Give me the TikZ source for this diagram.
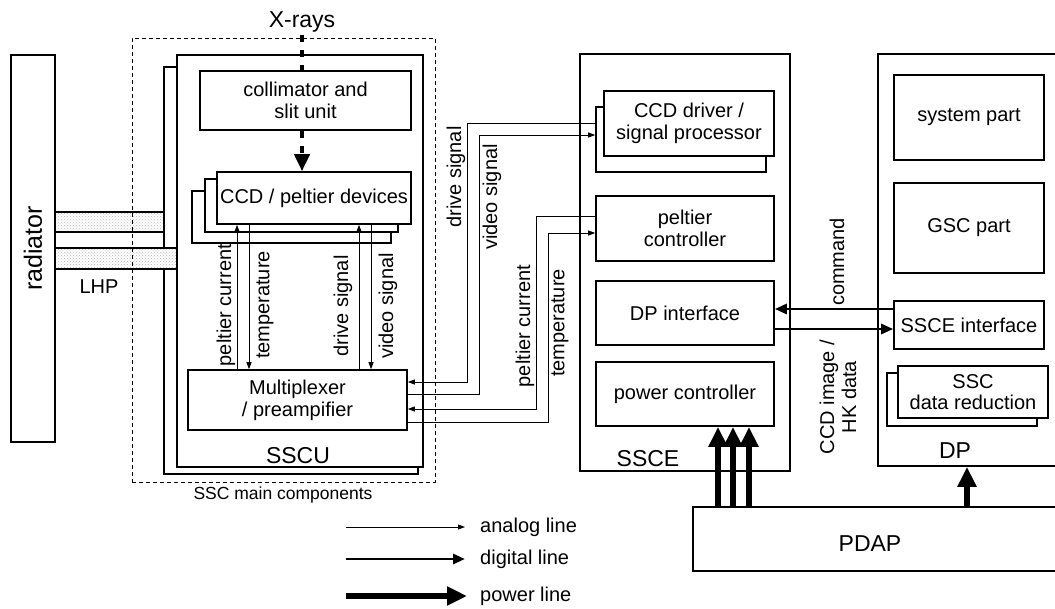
\documentclass[tikz,border=0pt]{standalone}
\usepackage{fontspec}
\setmainfont{Liberation Sans}
\usetikzlibrary{arrows.meta,patterns}

\begin{document}
\begin{tikzpicture}[x=1pt,y=-1pt,
  box/.style={draw,line width=1.6pt,fill=white,inner sep=0pt,align=center,font=\fontsize{20}{22}\selectfont},
  big/.style={font=\fontsize{23}{26}\selectfont,inner sep=0pt},
  txt/.style={font=\fontsize{20}{22}\selectfont,align=center,inner sep=0pt},
  lhp/.style={draw,line width=1.6pt,preaction={fill=white},pattern=crosshatch dots,pattern color=gray!55},
  analog/.style={line width=0.8pt,-{Triangle[width=5pt,length=7pt]}},
  digital/.style={line width=2.8pt,-{Triangle[width=10pt,length=12pt]}},
  power/.style={line width=6.5pt,-{Triangle[width=18pt,length=20pt]}},
  xray/.style={line width=4pt,dash pattern=on 7pt off 8pt}]
  \useasboundingbox (0,0) rectangle (1055,608);
  % radiator and SSCU
  \node[box,big,font=\fontsize{25}{28}\selectfont,rotate=90,minimum width=387,minimum height=44] (rad) at (33,248.5) {radiator};
  \node[box,minimum width=254,minimum height=407] (sscub) at (291,270.5) {};
  \node[box,minimum width=246,minimum height=412] (sscu) at (300,261) {};
  \node[big,anchor=base] (sscul) at (298,463) {SSCU};
  \draw[lhp] (55,212) rectangle (164,232);
  \draw[lhp] (55,248) rectangle (177,269);
  \node[txt] (lhpl) at (99,287) {LHP};
  \node[draw,line width=0.8pt,dash pattern=on 4pt off 3pt,minimum width=303,minimum height=444] (sscm) at (283.5,260) {};
  \node[font=\fontsize{17.5}{20}\selectfont,inner sep=0pt] (sscml) at (283,495) {SSC main components};
  \node[box,minimum width=211,minimum height=59] (coll) at (305.5,100.5) {collimator and\\slit unit};
  \node[box,minimum width=199,minimum height=52] (ccd3) at (291.5,217) {};
  \node[box,minimum width=193,minimum height=53] (ccd2) at (301.5,205.5) {};
  \node[box,minimum width=194,minimum height=52] (ccd) at (314,198) {CCD / peltier devices};
  \node[box,minimum width=219,minimum height=60] (mux) at (297.5,400) {Multiplexer\\/ preampifier};
  \node[big,anchor=base] (xr) at (302,27) {X-rays};
  \coordinate (xtop) at (302,35);
  \draw[xray] (xtop) -- (xtop |- coll.north);
  \draw[xray,-{Triangle[width=15pt,length=17pt]}] (xtop |- coll.south) -- (xtop |- ccd.north);
  \draw[analog] (237,0 |- mux.north) -- (237,0 |- ccd.south);
  \draw[analog] (249,0 |- ccd.south) -- (249,0 |- mux.north);
  \draw[analog] (359,0 |- mux.north) -- (359,0 |- ccd.south);
  \draw[analog] (371,0 |- ccd.south) -- (371,0 |- mux.north);
  \node[txt,rotate=90] (lpc) at (226,305) {peltier current};
  \node[txt,rotate=90] (ltp) at (265,305) {temperature};
  \node[txt,rotate=90] (lds) at (343,306) {drive signal};
  \node[txt,rotate=90] (lvs) at (388,306) {video signal};
  % SSCE
  \node[box,minimum width=210,minimum height=417] (ssce) at (685,262.5) {};
  \node[big,anchor=base] (sscel) at (648,466) {SSCE};
  \node[box,minimum width=170,minimum height=65] (drvb) at (681,139.5) {};
  \node[box,minimum width=170,minimum height=65] (drv) at (689,123.5) {CCD driver /\\signal processor};
  \node[box,minimum width=178,minimum height=65] (pltc) at (685,228.5) {peltier\\controller};
  \node[box,minimum width=178,minimum height=64] (dpif) at (685,313) {DP interface};
  \node[box,minimum width=178,minimum height=64] (pwc) at (685,394) {power controller};
  \draw[analog] (drvb.west |- 0,123) -| (467,382) -- (mux.east |- 0,382);
  \draw[analog] (mux.east |- 0,394) -| (479,135) -- (drvb.west |- 0,135);
  \draw[analog] (pltc.west |- 0,216) -| (536,409) -- (mux.east |- 0,409);
  \draw[analog] (mux.east |- 0,422) -| (548,233) -- (pltc.west |- 0,233);
  \node[txt,rotate=90] (lds2) at (456,177) {drive signal};
  \node[txt,rotate=90] (lvs2) at (492,197) {video signal};
  \node[txt,rotate=90] (lpc2) at (525,326) {peltier current};
  \node[txt,rotate=90] (ltp2) at (560,323) {temperature};
  % DP
  \node[box,minimum width=184,minimum height=412] (dp) at (970,260) {};
  \node[big,anchor=base] (dpl) at (955,458) {DP};
  \node[box,minimum width=150,minimum height=85] (sys) at (969,117.5) {system part};
  \node[box,minimum width=150,minimum height=90] (gsc) at (969,228) {GSC part};
  \node[box,minimum width=150,minimum height=48] (ssif) at (969,325) {SSCE interface};
  \node[box,minimum width=150,minimum height=53] (redb) at (962,399.5) {};
  \node[box,minimum width=150,minimum height=52,font=\fontsize{20}{21}\selectfont] (red) at (973,392) {SSC\\data reduction};
  \draw[digital] (ssif.west |- 0,309) -- (dpif.east |- 0,309);
  \draw[digital] (dpif.east |- 0,329) -- (ssif.west |- 0,329);
  \node[txt,rotate=90] (lcmd) at (837,262) {command};
  \node[txt,rotate=90] (ldat) at (838,397) {CCD image /\\HK data};
  % PDAP
  \node[box,minimum width=369,minimum height=64] (pdap) at (877.5,539) {};
  \node[big,anchor=base] (pdapl) at (870,551) {PDAP};
  \foreach \px in {718,733,749}
    \draw[power] (\px,0 |- pdap.north) -- (\px,0 |- pwc.south);
  \draw[power] (967,0 |- pdap.north) -- (967,0 |- dp.south);
  % legend
  \node[txt,anchor=west] (tan) at (480,527) {analog line};
  \node[txt,anchor=west] (tdg) at (480,559) {digital line};
  \node[txt,anchor=west] (tpw) at (480,596) {power line};
  \draw[analog] (346,0 |- tan.west) -- ([xshift=-15pt]tan.west);
  \draw[digital] (346,0 |- tdg.west) -- ([xshift=-15pt]tdg.west);
  \draw[power] (346,0 |- tpw.west) -- ([xshift=-13pt]tpw.west);
\end{tikzpicture}
\end{document}
